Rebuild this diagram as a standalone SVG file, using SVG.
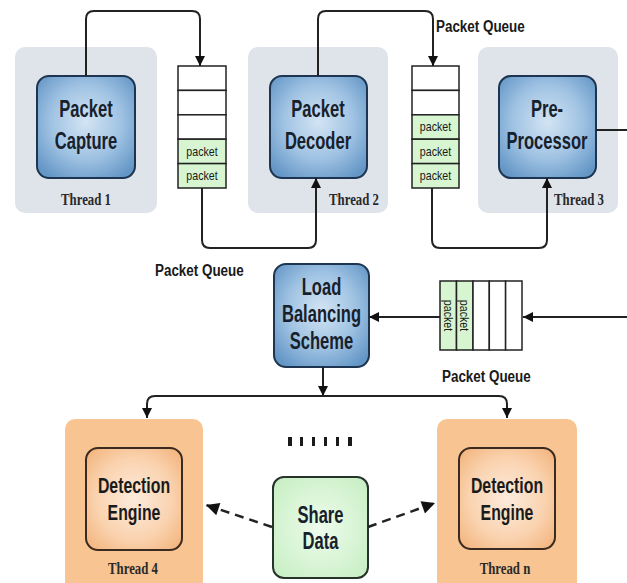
<svg xmlns="http://www.w3.org/2000/svg" width="627" height="583" viewBox="0 0 627 583">
  <defs>
    <radialGradient id="blueFill" cx="50%" cy="45%" r="65%">
      <stop offset="0" stop-color="#d3e4f3"/>
      <stop offset="0.55" stop-color="#a0c3e3"/>
      <stop offset="1" stop-color="#6496c6"/>
    </radialGradient>
    <radialGradient id="peachFill" cx="50%" cy="50%" r="65%">
      <stop offset="0" stop-color="#fdebdc"/>
      <stop offset="0.6" stop-color="#fad3b0"/>
      <stop offset="1" stop-color="#f3b680"/>
    </radialGradient>
    <radialGradient id="greenFill" cx="50%" cy="50%" r="65%">
      <stop offset="0" stop-color="#eefcec"/>
      <stop offset="1" stop-color="#c8efc4"/>
    </radialGradient>
    <marker id="arrow" viewBox="0 0 10 10" refX="10" refY="5" markerWidth="10" markerHeight="10" markerUnits="userSpaceOnUse" orient="auto">
      <path d="M0,0 L10,5 L0,10 z" fill="#111"/>
    </marker>
    <marker id="arrowBig" viewBox="0 0 10 10" refX="10" refY="5" markerWidth="15" markerHeight="13" markerUnits="userSpaceOnUse" orient="auto">
      <path d="M0,0 L10,5 L0,10 z" fill="#111"/>
    </marker>
    <style>
      .panel { fill: #dfe3ea; }
      .opanel { fill: #f8c592; }
      .box { fill: url(#blueFill); stroke: #1d3550; stroke-width: 2; }
      .dbox { fill: url(#peachFill); stroke: #3a2a20; stroke-width: 2; }
      .sbox { fill: url(#greenFill); stroke: #26332a; stroke-width: 2; }
      .cell { fill: #ffffff; stroke: #222; stroke-width: 1.5; }
      .gcell { fill: #d6f5d0; stroke: #222; stroke-width: 1.5; }
      .big { font-family: "Liberation Sans", Arial, sans-serif; font-weight: bold; font-size: 23px; fill: #17212c; text-anchor: middle; }
      .eng { font-family: "Liberation Sans", Arial, sans-serif; font-weight: bold; font-size: 22px; fill: #1a1a1a; text-anchor: middle; }
      .lbl { font-family: "Liberation Sans", Arial, sans-serif; font-weight: bold; font-size: 17px; fill: #1a1a1a; }
      .thr { font-family: "Liberation Serif", "Times New Roman", serif; font-weight: bold; font-size: 16px; fill: #2a2a2a; text-anchor: middle; }
      .pk { font-family: "Liberation Sans", Arial, sans-serif; font-size: 13px; fill: #1a1a1a; text-anchor: middle; }
      .wire { fill: none; stroke: #222; stroke-width: 2; }
      .dash { fill: none; stroke: #222; stroke-width: 2.5; stroke-dasharray: 9 6; }
    </style>
  </defs>

  <rect width="627" height="583" fill="#ffffff"/>

  <!-- thread 1: capture -->
  <g id="thread1">
    <rect class="panel" x="15" y="47" width="142" height="166" rx="10"/>
    <rect class="box" x="37" y="76" width="98" height="102" rx="12"/>
    <text class="big" transform="translate(86,117) scale(0.72,1)">Packet</text>
    <text class="big" transform="translate(86,149) scale(0.72,1)">Capture</text>
    <text class="thr" transform="translate(86,205) scale(0.8,1)">Thread 1</text>
  </g>

  <!-- queue between capture and decoder -->
  <g id="queue1">
    <rect class="cell" x="178" y="66" width="48" height="24.4"/>
    <rect class="cell" x="178" y="90.4" width="48" height="24.4"/>
    <rect class="cell" x="178" y="114.8" width="48" height="24.4"/>
    <rect class="gcell" x="178" y="139.2" width="48" height="24.4"/>
    <rect class="gcell" x="178" y="163.6" width="48" height="24.4"/>
    <text class="pk" transform="translate(202,155.5) scale(0.82,1)">packet</text>
    <text class="pk" transform="translate(202,180) scale(0.82,1)">packet</text>
  </g>

  <!-- thread 2: decoder -->
  <g id="thread2">
    <rect class="panel" x="248" y="47" width="140" height="166" rx="10"/>
    <rect class="box" x="270" y="76" width="97" height="102" rx="12"/>
    <text class="big" transform="translate(318,117) scale(0.72,1)">Packet</text>
    <text class="big" transform="translate(318,149) scale(0.72,1)">Decoder</text>
    <text class="thr" transform="translate(354,205) scale(0.8,1)">Thread 2</text>
  </g>

  <!-- queue between decoder and pre-processor -->
  <g id="queue2">
    <rect class="cell" x="412" y="66" width="47" height="24.4"/>
    <rect class="cell" x="412" y="90.4" width="47" height="24.4"/>
    <rect class="gcell" x="412" y="114.8" width="47" height="24.4"/>
    <rect class="gcell" x="412" y="139.2" width="47" height="24.4"/>
    <rect class="gcell" x="412" y="163.6" width="47" height="24.4"/>
    <text class="pk" transform="translate(435.5,131) scale(0.82,1)">packet</text>
    <text class="pk" transform="translate(435.5,155.5) scale(0.82,1)">packet</text>
    <text class="pk" transform="translate(435.5,180) scale(0.82,1)">packet</text>
    <text class="lbl" transform="translate(436,32) scale(0.79,1)">Packet Queue</text>
  </g>

  <!-- thread 3: pre-processor -->
  <g id="thread3">
    <rect class="panel" x="478" y="47" width="140" height="166" rx="10"/>
    <rect class="box" x="499" y="76" width="97" height="102" rx="12"/>
    <text class="big" transform="translate(547,117) scale(0.72,1)">Pre-</text>
    <text class="big" transform="translate(547,149) scale(0.72,1)">Processor</text>
    <text class="thr" transform="translate(579,205) scale(0.8,1)">Thread 3</text>
  </g>

  <text id="queueLabelLeft" class="lbl" transform="translate(155,276) scale(0.79,1)">Packet Queue</text>

  <!-- load balancer -->
  <g id="loadBalancer">
    <rect class="box" x="274" y="264" width="95" height="103" rx="12"/>
    <text class="big" transform="translate(321.5,295) scale(0.72,1)">Load</text>
    <text class="big" transform="translate(321.5,322) scale(0.72,1)">Balancing</text>
    <text class="big" transform="translate(321.5,349) scale(0.72,1)">Scheme</text>
  </g>

  <!-- horizontal queue feeding the balancer -->
  <g id="queue3">
    <rect class="gcell" x="440" y="281" width="16.5" height="69"/>
    <rect class="gcell" x="456.5" y="281" width="16.5" height="69"/>
    <rect class="cell" x="473" y="281" width="16.3" height="69"/>
    <rect class="cell" x="489.3" y="281" width="16.3" height="69"/>
    <rect class="cell" x="505.6" y="281" width="16.4" height="69"/>
    <text class="pk" transform="translate(448.2,315.5) rotate(90) scale(0.82,1)" y="4.5">packet</text>
    <text class="pk" transform="translate(464.7,315.5) rotate(90) scale(0.82,1)" y="4.5">packet</text>
    <text class="lbl" transform="translate(442,382) scale(0.79,1)">Packet Queue</text>
  </g>

  <!-- separator dots between detection threads -->
  <g id="ellipsis" fill="#1a1a1a">
    <rect x="288" y="437" width="4" height="9"/>
    <rect x="300" y="437" width="3" height="9"/>
    <rect x="312" y="437" width="3" height="9"/>
    <rect x="324" y="437" width="3" height="9"/>
    <rect x="336" y="437" width="3" height="9"/>
    <rect x="348" y="437" width="4" height="9"/>
  </g>

  <!-- thread 4: detection engine -->
  <g id="thread4">
    <rect class="opanel" x="65" y="419" width="138" height="175" rx="10"/>
    <rect class="dbox" x="86" y="448" width="96" height="102" rx="12"/>
    <text class="eng" transform="translate(134,493) scale(0.72,1)">Detection</text>
    <text class="eng" transform="translate(134,520) scale(0.72,1)">Engine</text>
    <text class="thr" transform="translate(133,574) scale(0.8,1)">Thread 4</text>
  </g>

  <!-- thread n: detection engine -->
  <g id="threadN">
    <rect class="opanel" x="437" y="419" width="140" height="175" rx="10"/>
    <rect class="dbox" x="459" y="448" width="96" height="101" rx="12"/>
    <text class="eng" transform="translate(507,493) scale(0.72,1)">Detection</text>
    <text class="eng" transform="translate(507,520) scale(0.72,1)">Engine</text>
    <text class="thr" transform="translate(505,574) scale(0.8,1)">Thread n</text>
  </g>

  <!-- shared data store -->
  <g id="shareData">
    <rect class="sbox" x="273" y="477" width="95" height="101" rx="11"/>
    <text class="big" transform="translate(320.5,523) scale(0.72,1)">Share</text>
    <text class="big" transform="translate(320.5,549) scale(0.72,1)">Data</text>
  </g>

  <!-- connectors -->
  <g id="connectors">
    <path class="wire" d="M86,76 V19 Q86,11 94,11 H192 Q200,11 200,19 V66" marker-end="url(#arrow)"/>
    <path class="wire" d="M202,188 V240 Q202,248 210,248 H308 Q316,248 316,240 V178" marker-end="url(#arrow)"/>
    <path class="wire" d="M318,76 V19 Q318,11 326,11 H425 Q433,11 433,19 V66" marker-end="url(#arrow)"/>
    <path class="wire" d="M432,188 V240 Q432,248 440,248 H539 Q547,248 547,240 V178" marker-end="url(#arrow)"/>
    <path class="wire" d="M596,130 H627"/>
    <path class="wire" d="M627,317 H523" marker-end="url(#arrow)"/>
    <path class="wire" d="M440,317 H369" marker-end="url(#arrow)"/>
    <path class="wire" d="M323,367 V396" marker-end="url(#arrow)"/>
    <path class="wire" d="M323,396 H155 Q147,396 147,404 V418" marker-end="url(#arrow)"/>
    <path class="wire" d="M323,396 H499 Q507,396 507,404 V418" marker-end="url(#arrow)"/>
    <path class="dash" d="M272,527 L206,505" marker-end="url(#arrowBig)"/>
    <path class="dash" d="M368,527 L435,503" marker-end="url(#arrowBig)"/>
  </g>
</svg>
